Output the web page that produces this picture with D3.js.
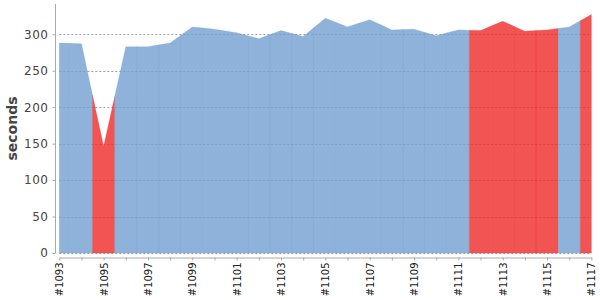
<!DOCTYPE html>
<html>
<head>
<meta charset="utf-8">
<script src="https://cdn.jsdelivr.net/npm/d3@7"></script>
<style>
  body { margin: 0; background: #fff; }
  text { font-family: "DejaVu Sans", sans-serif; }
</style>
</head>
<body>
<div id="chart"></div>
<script>
// build numbers along the x axis
const builds = ["#1093", "#1094", "#1095", "#1096", "#1097", "#1098", "#1099", "#1100",
    "#1101", "#1102", "#1103", "#1104", "#1105", "#1106", "#1107", "#1108", "#1109",
    "#1110", "#1111", "#1112", "#1113", "#1114", "#1115", "#1116", "#1117"];

// build duration in seconds
const durations = [288, 287, 146, 283, 283, 288, 310, 307, 302, 294, 305, 297, 322,
    310, 320, 306, 307, 298, 306, 305, 318, 304, 306, 310, 327];

// builds that failed (drawn red)
const failedBuilds = ["#1095", "#1112", "#1113", "#1114", "#1115", "#1117"];

// labelled ticks on the x axis
const xTickLabels = ["#1093", "#1095", "#1097", "#1099", "#1101", "#1103", "#1105",
    "#1107", "#1109", "#1111", "#1113", "#1115", "#1117"];

const yTicks = [0, 50, 100, 150, 200, 250, 300];

const width = 600, height = 300;
const plotLeft = 59.3, plotRight = 591.4, plotTop = 4, plotBottom = 253;

const svg = d3.select("#chart")
    .append("svg")
    .attr("width", width)
    .attr("height", height);

const x = d3.scalePoint()
    .domain(builds)
    .range([plotLeft, plotRight]);

const y = d3.scaleLinear()
    .domain([0, 341.5])
    .range([plotBottom, plotTop]);

// Gridlines (behind the translucent areas)
svg.append("g")
    .selectAll("line")
    .data(yTicks)
    .enter()
    .append("line")
    .attr("x1", plotLeft)
    .attr("x2", plotRight)
    .attr("y1", d => Math.round(y(d)) + 0.5)
    .attr("y2", d => Math.round(y(d)) + 0.5)
    .attr("stroke", "#777")
    .attr("stroke-width", 0.7)
    .attr("stroke-dasharray", "2,2");

// Each build owns the area from the midpoint before it to the midpoint after it
const pts = builds.map((b, i) => ({x: x(b), v: durations[i]}));
const segments = builds.map((b, i) => {
    const seg = [];
    if (i > 0) seg.push({x: (pts[i - 1].x + pts[i].x) / 2, v: (pts[i - 1].v + pts[i].v) / 2});
    seg.push(pts[i]);
    if (i < builds.length - 1) seg.push({x: (pts[i].x + pts[i + 1].x) / 2, v: (pts[i].v + pts[i + 1].v) / 2});
    return {build: b, points: seg};
});

const area = d3.area()
    .x(d => d.x)
    .y0(y(0))
    .y1(d => y(d.v));

svg.append("g")
    .selectAll("path")
    .data(segments)
    .enter()
    .append("path")
    .attr("d", d => area(d.points))
    .attr("fill", d => failedBuilds.includes(d.build) ? "#ef2929" : "#729fcf")
    .attr("fill-opacity", 0.8)
    .attr("stroke", d => failedBuilds.includes(d.build) ? "#ef2929" : "#729fcf")
    .attr("stroke-opacity", 0.8)
    .attr("stroke-width", 0.3);

// Y axis
const yAxis = svg.append("g")
    .attr("transform", "translate(55.5,0)")
    .call(d3.axisLeft(y).tickValues(yTicks).tickSize(3).tickPadding(4));
yAxis.select(".domain").attr("stroke", "#aaa").attr("d", `M0,${plotTop}V${plotBottom}`);
yAxis.selectAll(".tick line").attr("stroke", "#aaa");
yAxis.selectAll(".tick text")
    .attr("fill", "#444")
    .style("font-size", "12px")
    .style("letter-spacing", "0.5px");

// X axis
const xAxis = svg.append("g")
    .attr("transform", "translate(0,257.5)")
    .call(d3.axisBottom(x).tickSize(3).tickSizeOuter(0)
        .tickFormat(d => xTickLabels.includes(d) ? d : ""));
xAxis.select(".domain").attr("stroke", "#aaa");
xAxis.selectAll(".tick line").attr("stroke", "#aaa");
xAxis.selectAll(".tick text")
    .attr("fill", "#222")
    .style("font-size", "10px")
    .attr("transform", "rotate(-90)")
    .attr("text-anchor", "end")
    .attr("x", -5)
    .attr("y", 0)
    .attr("dy", "0.35em");

// Y axis title
svg.append("text")
    .attr("transform", `translate(12,${(plotTop + plotBottom) / 2}) rotate(-90)`)
    .attr("text-anchor", "middle")
    .attr("dy", "0.35em")
    .attr("fill", "#444")
    .style("font-size", "14px")
    .style("font-weight", "bold")
    .text("seconds");
</script>
</body>
</html>
